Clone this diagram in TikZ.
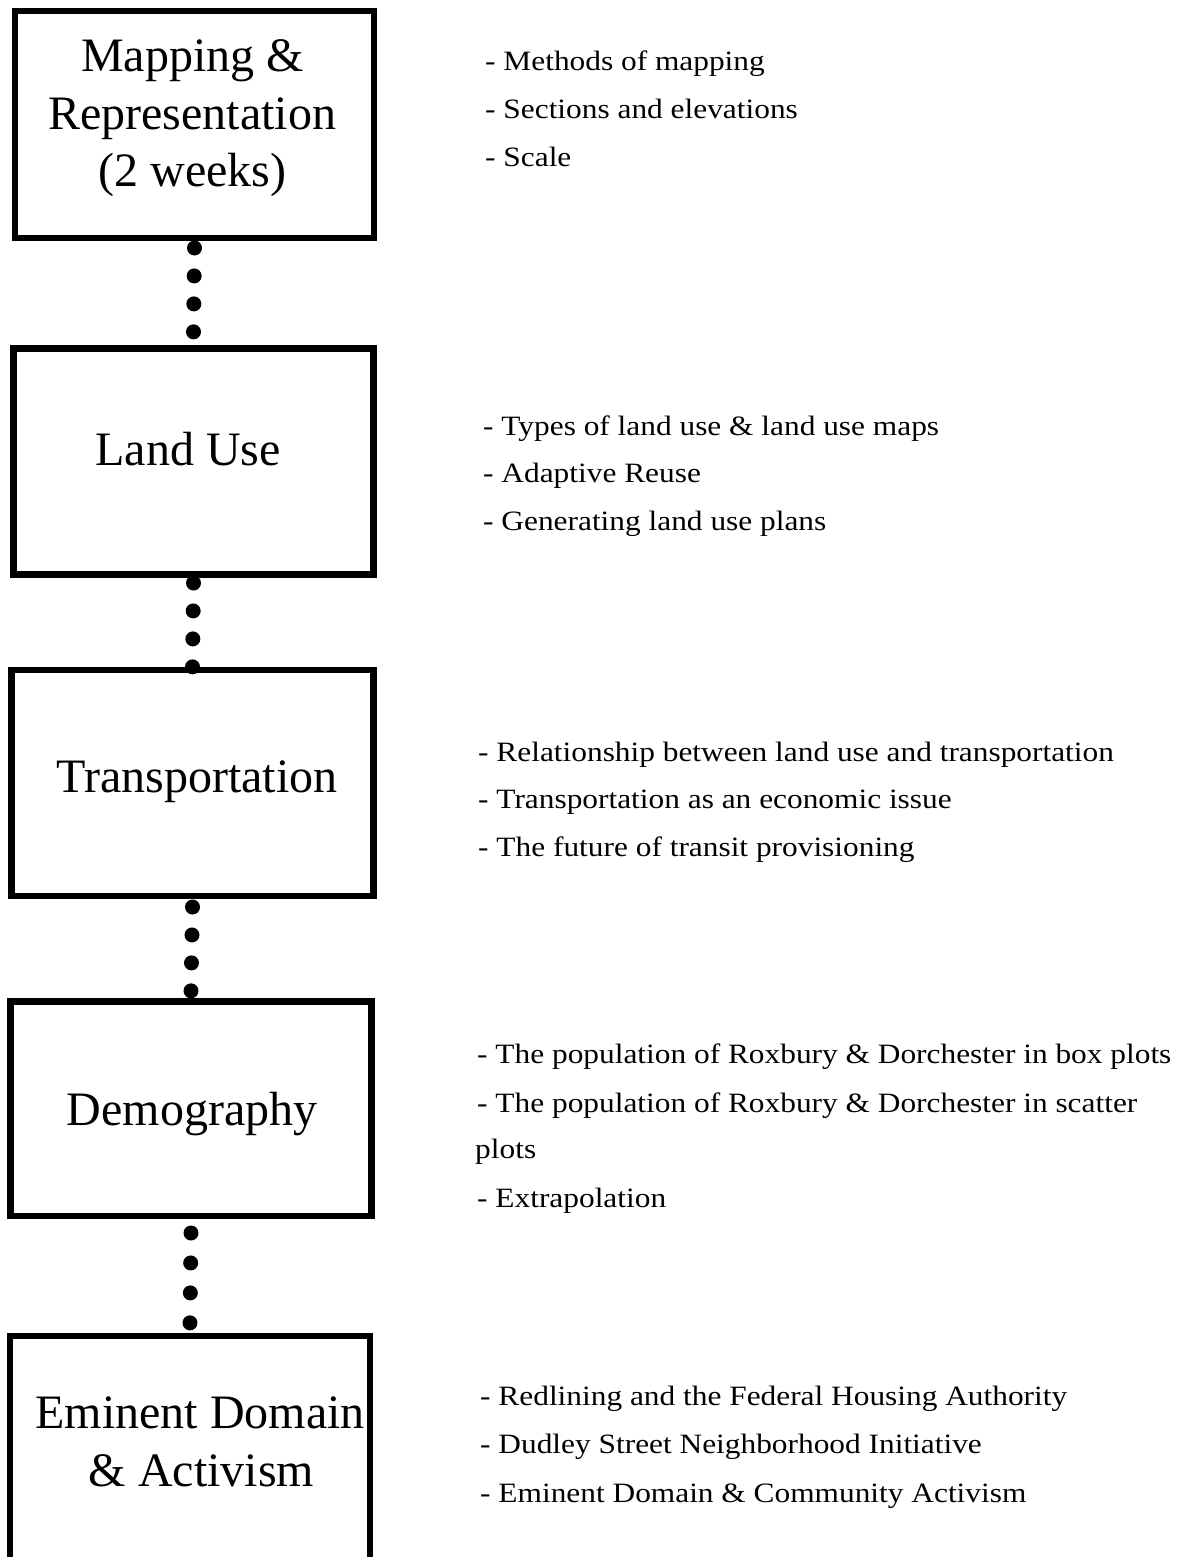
\documentclass[tikz,border=0pt]{standalone}
\usepackage{fontspec}
\setmainfont{Liberation Serif}
\newfontfamily\notefont[FakeStretch=1.12]{Liberation Serif}
\begin{document}
\begin{tikzpicture}[x=1pt,y=-1pt,
  box/.style={draw,line width=6.5pt,outer sep=0pt,inner sep=0pt},
  dotconn/.style={line width=15pt,line cap=round,dash pattern=on 0pt off #1},
  title/.style={font=\fontsize{48}{57.5}\selectfont,anchor=base,inner sep=0pt},
  note/.style={font=\notefont\fontsize{28}{48}\selectfont,anchor=base west,inner sep=0pt}]
\clip (0,0) rectangle (1191,1557);
\fill[white] (0,0) rectangle (1191,1557);
% boxes
\node[box,minimum width=359pt,minimum height=227pt] (b1) at (194.5,124.5) {};
\node[box,minimum width=360pt,minimum height=226pt] (b2) at (193.5,461.5) {};
\node[box,minimum width=362pt,minimum height=226pt] (b3) at (192.5,783) {};
\node[box,minimum width=361pt,minimum height=214.5pt] (b4) at (191,1108.75) {};
\node[box,minimum width=360pt,minimum height=364pt] (b5) at (190,1518) {};
% dotted connectors
\draw[dotconn=27.95pt] ([yshift=-10pt]b1.south) -- ([yshift=16.5pt]b2.north);
\draw[dotconn=27.95pt] ([yshift=-8.5pt]b2.south) -- ([yshift=3pt]b3.north);
\draw[dotconn=27.95pt] ([yshift=-11pt]b3.south) -- ([yshift=10.5pt]b4.north);
\draw[dotconn=29.95pt] ([yshift=-17pt]b4.south) -- ([yshift=13pt]b5.north);
% box titles
\node[title] (t1a) at (192.5,72) {Mapping \&};
\node[title] (t1b) at (192,130) {Representation};
\node[title] (t1c) at (192.5,187) {(2 weeks)};
\node[title] (t2) at (188,465) {Land Use};
\node[title] (t3) at (197,792) {Transportation};
\node[title] (t4) at (192,1125) {Demography};
\node[title] (t5a) at (200,1428) {Eminent Domain};
\node[title] (t5b) at (201.5,1486) {\& Activism};
% notes
\node[note] (n1a) at (485,71) {- Methods of mapping};
\node[note] (n1b) at (485,119) {- Sections and elevations};
\node[note] (n1c) at (485,167) {- Scale};
\node[note] (n2a) at (483,435) {- Types of land use \& land use maps};
\node[note] (n2b) at (483,482) {- Adaptive Reuse};
\node[note] (n2c) at (483,530) {- Generating land use plans};
\node[note] (n3a) at (478,761) {- Relationship between land use and transportation};
\node[note] (n3b) at (478,808) {- Transportation as an economic issue};
\node[note] (n3c) at (478,856) {- The future of transit provisioning};
\node[note] (n4a) at (477,1063) {- The population of Roxbury \& Dorchester in box plots};
\node[note] (n4b) at (477,1112) {- The population of Roxbury \& Dorchester in scatter};
\node[note] (n4c) at (475,1158) {plots};
\node[note] (n4d) at (477,1207) {- Extrapolation};
\node[note] (n5a) at (480,1405) {- Redlining and the Federal Housing Authority};
\node[note] (n5b) at (480,1453) {- Dudley Street Neighborhood Initiative};
\node[note] (n5c) at (480,1502) {- Eminent Domain \& Community Activism};
\end{tikzpicture}
\end{document}
